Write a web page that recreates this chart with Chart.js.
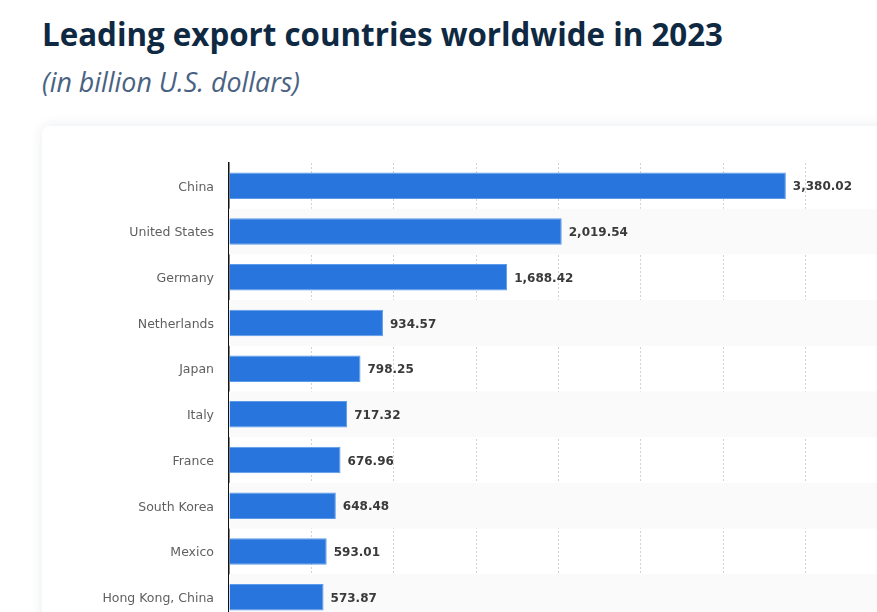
<!DOCTYPE html>
<html>
<head>
<meta charset="utf-8">
<script src="https://cdn.jsdelivr.net/npm/chart.js@4.4.0/dist/chart.umd.min.js"></script>
<style>
    html, body { margin: 0; padding: 0; background: #fff; overflow: hidden; width: 877px; height: 612px; }
    .title { position: absolute; left: 42px; top: 13px; margin: 0; font-family: "Open Sans", sans-serif; font-weight: 700; font-size: 31.3px; color: #0f2942; white-space: nowrap; }
    .subtitle { position: absolute; left: 42px; top: 63px; margin: 0; font-family: "Open Sans", sans-serif; font-style: italic; font-size: 26.8px; color: #4a6282; white-space: nowrap; }
    .card { position: absolute; left: 42px; top: 126px; width: 900px; height: 560px; background: #fff; border-radius: 8px; box-shadow: 0 0 14px rgba(20, 40, 80, 0.09); }
    .wrap { position: absolute; left: 42px; top: 126px; width: 870px; height: 520px; }
</style>
</head>
<body>
<h1 class="title">Leading export countries worldwide in 2023</h1>
<p class="subtitle">(in billion U.S. dollars)</p>
<div class="card"></div>
<div class="wrap"><canvas id="myChart"></canvas></div>
<script>
let countries = ['China', 'United States', 'Germany', 'Netherlands', 'Japan', 'Italy', 'France', 'South Korea', 'Mexico', 'Hong Kong, China'];
let exports2023 = [3380.02, 2019.54, 1688.42, 934.57, 798.25, 717.32, 676.96, 648.48, 593.01, 573.87];
let xTicks = [0, 500, 1000, 1500, 2000, 2500, 3000, 3500, 4000];

// полосы через строку
let stripes = {
    id: 'stripes',
    beforeDatasetsDraw(chart) {
        let ctx = chart.ctx, y = chart.scales.y, area = chart.chartArea;
        let step = y.getPixelForValue(1) - y.getPixelForValue(0);
        ctx.save();
        ctx.fillStyle = '#fafafa';
        for (let i = 1; i < countries.length; i += 2) {
            let c = y.getPixelForValue(i);
            ctx.fillRect(area.left, c - step / 2, area.right - area.left, step);
        }
        ctx.restore();
    }
};

// подписи значений справа от столбцов
let valueLabels = {
    id: 'valueLabels',
    afterDatasetsDraw(chart) {
        let ctx = chart.ctx;
        let meta = chart.getDatasetMeta(0);
        ctx.save();
        ctx.font = 'bold 12px "DejaVu Sans"';
        ctx.fillStyle = '#3a3a3a';
        ctx.textBaseline = 'middle';
        meta.data.forEach((bar, i) => {
            let txt = exports2023[i].toLocaleString('en-US', { minimumFractionDigits: 2, maximumFractionDigits: 2 });
            ctx.fillText(txt, bar.x + 7, bar.y + 1.5);
        });
        ctx.restore();
    }
};

let ctx = document.getElementById('myChart').getContext('2d');
let chart = new Chart(ctx, {
    type: 'bar',
    data: {
        labels: countries,
        datasets: [{
            data: exports2023,
            backgroundColor: '#2876dd',
            borderColor: '#5c9bea',
            borderWidth: 1,
            borderSkipped: 'start',
            categoryPercentage: 1,
            barPercentage: 0.58
        }]
    },
    options: {
        indexAxis: 'y',
        responsive: true,
        maintainAspectRatio: false,
        animation: false,
        layout: { padding: { top: 37, right: 24, bottom: 26, left: 0 } },
        plugins: { legend: { display: false }, tooltip: { enabled: false } },
        scales: {
            x: {
                min: 0,
                max: 4000,
                afterBuildTicks(scale) { scale.ticks = xTicks.map(v => ({ value: v })); },
                ticks: { display: false },
                grid: {
                    color: c => c.tick && c.tick.value === 0 ? 'transparent' : '#d2d2d2',
                    lineWidth: 1,
                    drawTicks: false
                },
                border: { display: false, dash: [2, 2] }
            },
            y: {
                afterFit(scale) { scale.width = 187; },
                ticks: {
                    padding: 15,
                    labelOffset: 1.5,
                    color: '#5f5f5f',
                    font: { family: '"DejaVu Sans"', size: 12.5 }
                },
                grid: { display: false, drawTicks: false },
                border: { display: true, color: '#111', width: 1.5 }
            }
        }
    },
    plugins: [stripes, valueLabels]
});
</script>
</body>
</html>
